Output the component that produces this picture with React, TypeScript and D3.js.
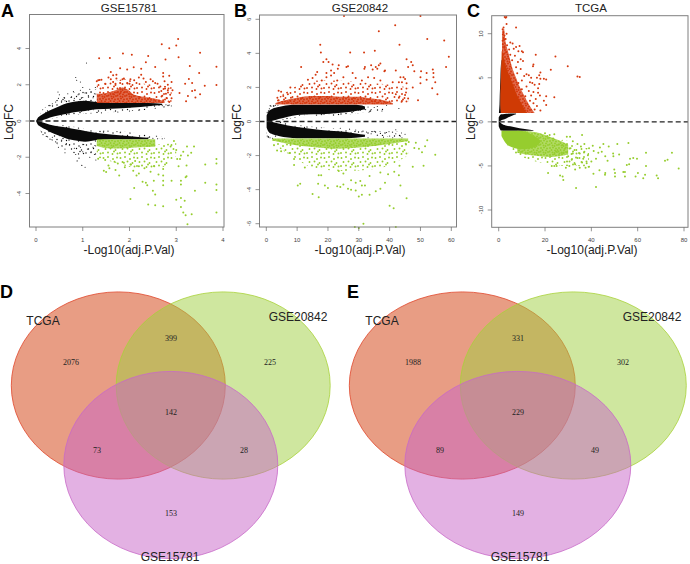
import React from "react";
import * as d3 from "d3";

type P = [number, number];
type B = [number, number, number];

// ---- Panel A: GSE15781 ----
const aTicksX = [0, 1, 2, 3, 4];
const aTicksY = [-4, -2, 0, 2, 4];
const aArmUp: B[] = [[0, 0, 0], [0.03, 0, 0.14], [0.1, 0.03, 0.3], [0.2, 0.1, 0.46], [0.3, 0.2, 0.6], [0.5, 0.32, 0.82], [0.66, 0.4, 0.98], [0.85, 0.5, 1.08], [1.05, 0.55, 1.12], [1.3, 0.65, 1.05], [1.6, 0.68, 1.0], [2.08, 0.75, 1.0], [2.4, 0.82, 1.0], [2.7, 0.88, 0.95]];
const aArmDn: B[] = [[0, 0, 0], [0.03, 0, -0.16], [0.1, -0.04, -0.32], [0.2, -0.12, -0.46], [0.3, -0.2, -0.6], [0.5, -0.3, -0.82], [0.66, -0.36, -0.98], [0.85, -0.46, -1.08], [1.05, -0.55, -1.14], [1.3, -0.66, -1.05], [1.6, -0.74, -1.0], [2.08, -0.85, -1.0], [2.4, -0.92, -1.0]];
const aBlackSparse: B[][] = [
  [[0.1, 0.3, 0.55], [0.3, 0.55, 0.95], [0.6, 0.85, 1.35], [1, 1.05, 1.7], [1.28, 1.0, 1.75]],
  [[0.1, -0.3, -0.6], [0.3, -0.55, -1.0], [0.6, -0.9, -1.5], [1, -1.05, -1.9], [1.28, -1.0, -1.9]],
  [[0.3, 0.12, 0.22], [0.6, 0.26, 0.4], [1, 0.38, 0.56], [1.6, 0.48, 0.7], [2.4, 0.62, 0.84], [2.9, 0.78, 1.0]],
  [[0.3, -0.12, -0.22], [0.6, -0.25, -0.38], [1, -0.38, -0.55], [1.6, -0.54, -0.76], [2.3, -0.7, -0.92], [2.75, -0.88, -1.0]],
];
const aBlack: P[] = [[0.85, 2.4], [0.87, 2.25], [0.95, 2.15], [1.08, 3.2], [0.47, 1.6], [0.5, 1.45], [0.6, 1.3], [0.48, 1.25], [0.55, 1.12], [0.68, 1.5], [0.75, 1.3], [0.8, 1.62], [0.9, 1.45], [0.95, 1.7], [1.0, 1.85], [1.05, 1.55], [1.12, 1.4], [1.15, 1.75], [1.18, 1.6], [1.22, 1.28], [1.25, 1.5], [1.27, 1.85], [1.0, 1.3], [0.82, 1.25], [0.3, 0.85], [0.35, 0.95], [0.42, 1.05], [0.62, 1.12], [1.4, 0.45], [1.75, 0.5], [2.0, 0.55], [2.2, 0.6], [2.55, 0.7], [2.7, 0.85], [2.78, 0.9], [2.85, 0.88], [0.12, -0.6], [0.15, -0.75], [0.22, -0.85], [0.3, -1.0], [0.35, -0.9], [0.45, -1.2], [0.48, -1.45], [0.42, -1.15], [0.55, -1.05], [0.62, -1.55], [0.62, -1.75], [0.65, -1.25], [0.72, -1.3], [0.82, -1.5], [0.85, -1.85], [0.88, -2.2], [0.92, -2.05], [0.95, -1.45], [0.98, -2.45], [1.0, -1.7], [1.02, -1.3], [1.05, -2.55], [1.1, -1.55], [1.15, -2.0], [1.18, -1.7], [1.22, -1.45], [1.25, -1.85], [1.28, -2.15], [1.26, -1.35], [1.45, -0.55], [1.8, -0.65], [2.4, -0.92], [2.5, -0.95], [2.6, -0.98], [2.7, -0.98]];
const aRedDense: B[] = [[1.3, 1.0, 1.5], [1.5, 1.0, 1.55], [1.7, 1.0, 1.7], [1.85, 1.0, 1.85], [1.95, 1.0, 1.75], [2.1, 1.0, 1.45], [2.4, 1.0, 1.3], [2.6, 1.0, 1.2], [2.75, 1.0, 1.08]];
const aRedSparse: B[][] = [[[1.3, 1.4, 2.05], [1.6, 1.4, 2.15], [1.9, 1.5, 2.3], [2.2, 1.2, 2.1], [2.5, 1.1, 2.0], [2.9, 1.05, 1.9]]];
const aRed: P[] = [[1.35, 3.46], [1.58, 3.48], [1.86, 3.72], [2.05, 3.65], [2.4, 3.59], [2.35, 3.24], [2.69, 4.24], [2.85, 4.01], [3.0, 4.16], [3.04, 4.53], [3.05, 3.52], [2.77, 3.39], [3.51, 3.76], [3.29, 3.04], [3.86, 3.0], [3.49, 2.65], [3.86, 1.99], [3.61, 1.95], [3.27, 2.32], [3.34, 2.1], [3.19, 2.06], [3.4, 1.69], [3.34, 1.66], [3.51, 1.47], [3.41, 1.29], [3.25, 1.38], [3.21, 1.09], [3.07, 1.55], [2.55, 2.98], [2.09, 2.96], [1.8, 2.91], [1.95, 2.84], [2.25, 2.88], [1.72, 2.55], [1.6, 2.7], [1.65, 2.52], [1.3, 2.2], [1.33, 2.25], [1.36, 2.26], [1.4, 2.27], [1.55, 2.4], [1.6, 2.3], [1.65, 2.15], [1.72, 2.35], [1.8, 2.1], [1.85, 2.3], [1.88, 2.35], [1.95, 2.1], [2.02, 2.3], [2.1, 2.25], [2.2, 2.4], [2.25, 2.55], [2.3, 2.35], [2.45, 2.3], [2.5, 2.2], [2.55, 2.1], [2.72, 2.65], [2.72, 2.45], [2.85, 2.5], [2.75, 2.2], [2.82, 2.0], [2.9, 2.15], [2.66, 1.9], [2.68, 1.65], [2.7, 1.4], [2.72, 1.15], [2.76, 1.8], [2.78, 1.5], [2.8, 1.25], [2.82, 1.7], [2.85, 1.05], [2.87, 1.45], [2.9, 1.25], [2.92, 1.7], [2.0, 2.05], [2.15, 2.1], [2.35, 2.15], [2.6, 2.05], [1.48, 2.05], [1.7, 2.05]];
const aGreenDense: B[] = [[1.3, -1.0, -1.38], [1.6, -1.0, -1.52], [1.9, -1.0, -1.5], [2.2, -1.0, -1.45], [2.55, -1.0, -1.42]];
const aGreenSparse: B[][] = [[[1.3, -1.3, -2.0], [1.7, -1.4, -2.3], [2.2, -1.35, -2.6], [2.6, -1.3, -2.6], [2.9, -1.2, -2.2], [3.0, -1.1, -1.9]]];
const aGreen: P[] = [[1.33, -2.08], [1.48, -2.15], [1.5, -2.82], [1.55, -2.45], [1.57, -2.6], [1.68, -2.25], [1.7, -2.7], [1.88, -2.3], [2.02, -2.4], [2.08, -2.75], [2.12, -2.2], [2.15, -3.0], [2.2, -2.5], [2.28, -3.35], [2.32, -2.6], [2.38, -3.55], [2.45, -2.8], [2.52, -3.3], [2.53, -2.5], [2.62, -2.95], [2.72, -2.65], [2.72, -3.0], [2.72, -3.3], [2.72, -3.55], [2.88, -1.4], [2.9, -3.3], [2.95, -1.1], [3.0, -1.6], [3.02, -2.1], [3.05, -2.5], [3.08, -2.1], [3.1, -1.9], [3.15, -1.7], [3.1, -3.3], [3.1, -3.5], [3.22, -3.05], [3.2, -3.1], [3.23, -1.4], [3.25, -1.9], [3.22, -2.45], [3.32, -1.75], [3.38, -1.4], [3.4, -3.85], [3.62, -2.4], [3.62, -3.4], [3.86, -2.1], [3.86, -2.35], [3.86, -3.5], [3.86, -3.8], [3.86, -5.05], [2.02, -4.3], [2.1, -3.7], [2.35, -3.4], [2.5, -3.85], [2.55, -4.05], [2.4, -4.6], [2.55, -4.65], [2.72, -4.7], [3.0, -4.35], [3.1, -4.25], [3.18, -4.4], [3.1, -4.75], [3.15, -5.05], [3.2, -5.2], [3.33, -5.15], [3.24, -5.7], [2.2, -2.9], [1.9, -2.55], [1.78, -3.0], [1.45, -2.75], [1.75, -2.35]];

// ---- Panel B: GSE20842 ----
const bTicksX = [0, 10, 20, 30, 40, 50, 60];
const bTicksY = [-6, -4, -2, 0, 2, 4, 6];
const bArmUp: B[] = [[0.1, 0, 0.35], [0.8, 0, 0.6], [2, 0.04, 0.75], [4, 0.14, 0.85], [7, 0.28, 0.96], [10, 0.38, 0.98], [15, 0.42, 0.98], [20.6, 0.46, 0.98], [26, 0.54, 0.98], [29, 0.62, 0.98], [32, 0.72, 0.88]];
const bArmDn: B[] = [[0.1, 0, -0.35], [0.8, 0, -0.62], [2, -0.03, -0.75], [4, -0.12, -0.85], [7, -0.24, -0.94], [10, -0.32, -0.98], [15, -0.44, -0.98], [20.6, -0.54, -0.98], [26, -0.62, -0.98], [29, -0.7, -0.96], [32, -0.78, -0.9]];
const bBlackSparse: B[][] = [
  [[4, 0.02, 0.14], [10, 0.22, 0.38], [20, 0.3, 0.46], [30, 0.48, 0.66], [38, 0.62, 0.9]],
  [[4, -0.02, -0.14], [10, -0.2, -0.32], [20, -0.38, -0.54], [30, -0.52, -0.72], [44, -0.6, -0.96]],
  [[0.1, -0.35, -0.95], [1.5, -0.7, -0.98], [4, -0.85, -0.98]],
  [[0.1, 0.35, 0.7], [1.5, 0.68, 0.98], [4, 0.85, 0.98]],
];
const bBlack: P[] = [[0.3, -0.85], [0.6, -0.9], [1.2, -0.95], [2, -0.98], [1, 0.75], [1.5, 0.9], [2.5, 0.92], [3, 0.95], [30, 0.65], [31, 0.9], [32, 0.72], [33, 0.85], [34, 0.7], [35, 0.82], [36, 0.88], [37.5, 0.62], [33.5, 0.6], [39, 0.95], [43, 0.76], [31, -0.6], [32.5, -0.62], [33, -0.95], [34, -0.72], [35, -0.58], [36, -0.8], [37, -0.7], [38, -0.92], [39, -0.65], [40, -0.85], [42, -0.48], [42, -0.72], [41, -0.95], [43.5, -0.85], [44, -0.95], [45, -0.75], [24, -0.4], [27, -0.45], [29, -0.5]];
const bRedDense: B[] = [[3, 1.0, 1.08], [5, 1.0, 1.2], [10, 1.0, 1.4], [15, 1.0, 1.5], [20, 1.0, 1.5], [25, 1.0, 1.45], [30, 1.0, 1.45], [34, 1.0, 1.35], [38, 1.0, 1.25], [41, 1.0, 1.08]];
const bRedSparse: B[][] = [[[3, 1, 1.3], [8, 1.2, 1.9], [15, 1.3, 2.4], [22, 1.3, 2.4], [30, 1.25, 2.3], [38, 1.1, 2.2], [46, 1.1, 2]]];
const bRed: P[] = [[25.2, 6.2], [50, 6.2], [41.8, 5.65], [36.5, 5.3], [43.2, 4.5], [52.2, 4.85], [57.7, 4.75], [59.2, 3.8], [17.5, 4.5], [17.7, 4.05], [27.2, 4.05], [31.7, 4.05], [35.2, 4.15], [19.5, 3.65], [18.5, 3.5], [20.2, 3.5], [21.5, 3.35], [45.5, 3.65], [47, 3.5], [47.5, 3.3], [58.3, 3.2], [11.3, 3.2], [21, 3.0], [23.5, 3.3], [23.2, 3.1], [26, 3.2], [26.5, 3.25], [32, 3.2], [31.8, 3.1], [34, 3.3], [35.5, 3.2], [36.5, 3.3], [37, 3.4], [34.5, 3.05], [36, 3.1], [38.5, 3.0], [38.3, 2.95], [42, 3.0], [46, 3.2], [48, 2.95], [50.2, 2.95], [52, 2.85], [54, 3.05], [54.2, 2.85], [16.5, 2.9], [19.5, 2.85], [22, 2.85], [28, 2.85], [50, 2.6], [54.2, 2.6], [52, 2.45], [54.8, 2.3], [53.8, 1.95], [55.5, 1.6], [50, 2.25], [49.2, 1.25], [47.5, 2.0], [45.5, 2.25], [44, 2.3], [43.5, 2.6], [43, 2.3], [44.5, 2.6], [45, 2.5], [42, 1.6], [41, 2.3], [13.5, 2.45], [15, 2.55], [16, 2.75], [18, 2.4], [19.5, 2.6], [21, 2.7], [23, 2.4], [25, 2.6], [29, 2.55], [31, 2.4], [33, 2.6], [35, 2.55], [37, 2.4], [7.8, 2.0], [4, 1.8], [4.8, 1.75], [3.6, 1.4], [4, 1.25], [5.5, 1.5], [7, 1.6], [8, 1.4], [43, 1.4], [45, 1.55], [46, 1.35], [44, 1.2]];
const bGreenDense: B[] = [[2, -1.0, -1.12], [8, -1.0, -1.35], [15, -1.0, -1.5], [22, -1.0, -1.6], [28, -1.0, -1.55], [34, -1.0, -1.45], [40, -1.0, -1.32], [46, -1.0, -1.15]];
const bGreenSparse: B[][] = [[[2, -1, -1.3], [8, -1.25, -2], [15, -1.4, -2.7], [25, -1.45, -2.9], [35, -1.35, -2.8], [42, -1.2, -2.4], [46, -1.1, -2]]];
const bGreen: P[] = [[2.5, -1.4], [4, -1.1], [3.5, -1.7], [4.8, -1.75], [7.5, -1.85], [9, -2.2], [9, -2.55], [12.5, -2.7], [17, -3.15], [17.8, -3.15], [23.5, -2.9], [25, -3.05], [27.5, -3.45], [29, -3.6], [30.5, -3.5], [32, -3.75], [33.5, -3.2], [37, -3.0], [39.5, -3.1], [41.5, -2.95], [43, -3.15], [43.2, -2.6], [45.2, -1.3], [46.2, -1.2], [47.5, -2.65], [48, -1.55], [48.5, -1.25], [49.5, -1.6], [50.5, -1.8], [51, -2.6], [51.5, -1.45], [52.2, -1.1], [54.8, -1.95], [10.2, -3.75], [11, -3.65], [16.8, -3.65], [19, -3.75], [20, -3.9], [15, -4.25], [17, -4.45], [23, -3.8], [24, -3.85], [25, -3.7], [26.5, -3.95], [27.5, -4.0], [29, -4.05], [31, -3.75], [30, -4.4], [31, -4.3], [33.5, -4.3], [35.5, -4.1], [37, -3.95], [38.5, -3.6], [43.5, -3.75], [45.5, -4.5], [40, -4.95], [41.3, -5.1], [28.7, -6.2], [30, -6.25], [31.5, -6.0], [42, -6.2]];

// ---- Panel C: TCGA ----
const cTicksX = [0, 20, 40, 60, 80];
const cTicksY = [-10, -5, 0, 5, 10];
const cArmUp: B[] = [[0, 0, 0.5], [0.4, 0.03, 0.7], [1, 0.15, 0.85], [2.5, 0.3, 0.9], [4, 0.5, 0.92], [6, 0.72, 0.95], [7.5, 0.85, 0.95]];
const cArmDn: B[] = [[0, 0, -0.5], [0.5, -0.02, -0.8], [1, -0.15, -0.98], [3, -0.4, -1.0], [6, -0.55, -1.0], [9, -0.72, -1.0], [12, -0.85, -1.0], [15, -0.95, -1.0]];
const cRedSolid: B[] = [[1, 0.9, 12], [2, 0.7, 10], [3, 0.7, 8], [4, 0.8, 6.5], [5, 0.9, 5], [6, 1, 3.5], [7, 1.2, 2.4], [8, 1.3, 1.6]];
const cRedDenseV: B[] = [[1, 10, 15.5], [2, 8, 13], [3, 6, 11], [4, 5, 9], [5, 4, 7.5], [6, 2.5, 6], [7, 1.5, 5], [8, 1.4, 4], [9, 1.5, 3], [10.5, 1.6, 2.4]];
const cLeftEdge: B[] = [[1, 0.1, 1.0], [2, 0.35, 0.9], [3, 0.45, 0.9], [4, 0.6, 1.0], [5, 0.75, 1.1], [6, 0.85, 1.2], [7, 1.1, 1.3]];
const cRed: P[] = [[2.6, 11.9], [3, 11.8], [3.3, 11.9], [3.4, 11.1], [2.1, 10.7], [1.7, 10.5], [7.5, 10.7], [2, 10.2], [1.8, 9.9], [2.5, 9.8], [3.4, 10], [2, 9.5], [1.7, 9.2], [3, 9.4], [5, 9], [6, 8.9], [1.8, 8.8], [3.6, 8.7], [7.5, 8.5], [9, 8.6], [2.5, 8.4], [4.5, 8.2], [6.5, 8.3], [10, 8], [10.5, 7.9], [8.5, 8], [3.2, 7.9], [2, 7.6], [5, 7.6], [7, 7.5], [16, 7.6], [24.5, 7.4], [4.2, 7.2], [9.5, 7.1], [5.8, 7], [8.3, 6.8], [10.5, 6.9], [7.5, 6.2], [15, 6.5], [14.8, 6.3], [29.8, 6.3], [22.5, 5.9], [9.5, 6], [18, 5.6], [12, 5.4], [13, 5.3], [8, 5.5], [17.5, 5.3], [34, 5.15], [35, 5.1], [11, 5.2], [14, 5], [16.5, 5], [18, 4.9], [19.5, 4.9], [20.5, 4.8], [10, 4.7], [13.5, 4.5], [14.5, 4.4], [8.5, 4.4], [15.5, 4.2], [17.5, 4.3], [17, 3.8], [12, 4], [10, 3.7], [13, 3.5], [15, 3.4], [17, 3.3], [17.8, 3], [14, 3], [11.5, 2.9], [20.5, 2.9], [24, 2.8], [16, 2.6], [13.5, 2.4], [19.5, 2.4], [15, 2.1], [20.5, 1.9], [16.5, 1.8], [15.5, 1.4], [18, 1.3]];
const cGreenSolid: B[] = [[1.2, -1, -1.6], [3, -1, -2.4], [6, -1, -2.9], [10, -1.05, -3.1], [14, -1.4, -3.0], [17, -1.9, -2.6], [18, -2.15, -2.3]];
const cGreenDense: B[] = [[8, -1, -3.5], [14, -1.1, -3.8], [18, -1.3, -3.9], [22, -1.7, -4], [26, -2.1, -3.9], [30, -2.6, -3.7]];
const cGreenSparse: B[][] = [[[3, -2.4, -2.8], [6, -2.9, -3.5], [10, -3.2, -4], [16, -3.6, -4.5], [22, -3.9, -4.8], [28, -2, -5], [34, -2.8, -5], [39, -3, -5.2]]];
const cGreen: P[] = [[77.7, -5.3], [74.8, -3.5], [72.9, -4.3], [71.8, -4.4], [68.8, -6.4], [68.2, -6.1], [63.6, -3.5], [63.6, -5], [63.2, -6], [62.4, -6.4], [60.1, -5.8], [59.7, -4.2], [58.1, -4.1], [56.7, -4.2], [56, -2.4], [55.3, -4.9], [56.3, -4.8], [51.2, -2.5], [52, -3.7], [54.5, -5.7], [53.8, -5.7], [54.5, -6.2], [59.1, -6.2], [50.2, -6.2], [50.2, -5.8], [49.9, -5.4], [49.4, -3.6], [49.5, -3.9], [33.4, -7.5], [42, -7.4], [27.9, -6.6], [26.5, -6.1], [27.6, -6.2], [22.9, -5], [21.3, -5.8], [40.9, -5.9], [43.5, -5.5], [45.9, -6], [46, -5.8], [45.2, -2.5], [43.7, -2.9], [40.6, -2.7], [36, -1.5], [29.4, -1.7], [30.8, -1.7], [47, -4.4], [46, -3.9], [44.5, -3.4], [43, -3.5], [42, -4.2], [41, -3.3], [40, -4.5], [39, -3], [38.5, -3.8], [38, -4.7], [37.5, -5.2], [37, -3.4], [36.5, -4.2], [36, -4.6], [35.5, -2.8], [35, -3.6], [35, -5.2], [34, -4.1], [34, -2.5], [33.5, -3.2], [33, -4.8], [33, -5.4], [32, -3.6], [32, -2.2], [31.5, -4.3], [31, -3], [30.5, -5], [30, -3.9], [29.5, -4.5], [29, -2.9], [29, -5.2], [28, -3.5], [25, -5], [24, -5], [23.5, -1.9], [22, -1.5], [21, -1.6], [20, -1.3], [24, -1.4], [47.5, -2.8], [39, -5.1], [37, -2.5]];

// ---- Venn diagrams ----
const vennSets = ["TCGA", "GSE20842", "GSE15781"];
const vennColors = ["#d23c0a", "#a0d040", "#c864c8"];
const vennStrokes = ["#e0452a", "#a8d238", "#c86ac8"];
const dCounts = ["2076", "399", "225", "142", "73", "28", "153"];
const eCounts = ["1988", "331", "302", "229", "89", "49", "149"];

// texture tiles for overplotted regions whose single points cannot be read
const denseTile: P[] = [[1, 1], [4, 0.5], [7, 1.5], [2.5, 3], [6, 3.5], [0.5, 4.5], [8, 5], [3.5, 5.5], [5.5, 6]];
const sparseTile: P[] = [[1.5, 2], [6, 1], [11, 3], [15, 1.5], [3.5, 6], [8.5, 5.5], [13.5, 7], [1, 10], [6, 9.5], [10.5, 11], [15.5, 10.5], [12, 8.5]];

const FONT = "'Liberation Sans', Arial, sans-serif";
const RED = "#d5380e";
const GREEN = "#96cd2e";
const BLACK = "#0a0a0a";

function Textures() {
  const mk = (id: string, col: string) => (
    <React.Fragment key={id}>
      <pattern id={`dense-${id}`} width={9} height={7} patternUnits="userSpaceOnUse">
        <rect width={9} height={7} fill={col} opacity={0.75} />
        {denseTile.map((d, i) => <circle key={i} cx={d[0]} cy={d[1]} r={1} fill={col} />)}
      </pattern>
      <pattern id={`sparse-${id}`} width={17} height={13} patternUnits="userSpaceOnUse">
        {sparseTile.map((d, i) => <circle key={i} cx={d[0]} cy={d[1]} r={id === "k" ? 0.7 : 0.95} fill={col} />)}
      </pattern>
    </React.Fragment>
  );
  return <defs>{mk("r", RED)}{mk("g", GREEN)}{mk("k", BLACK)}</defs>;
}

function Volcano(props: any) {
  const { title, letter, letterX, box, xr, yr, xd, yd, tx, ty, titleX, xLabelX, yLabelX } = props;
  const x = d3.scaleLinear().domain(xd).range(xr);
  const y = d3.scaleLinear().domain(yd).range(yr);
  const band = d3.area<B>().x((d) => x(d[0])).y0((d) => y(d[1])).y1((d) => y(d[2])).curve(d3.curveMonotoneX);
  const vband = d3.area<B>().y((d) => y(d[0])).x0((d) => x(d[1])).x1((d) => x(d[2])).curve(d3.curveMonotoneY);
  const bands = (list: B[][] | undefined, fill: string) => (list || []).map((b, i) => <path key={fill + i} d={band(b) || ""} fill={fill} />);
  const dots = (list: P[] | undefined, r: number, fill: string) => (list || []).map((d, i) => <circle key={fill + i} cx={x(d[0])} cy={y(d[1])} r={r} fill={fill} />);
  return (
    <g>
      <text x={letterX} y={16.5} fontFamily={FONT} fontWeight="bold" fontSize={18} fill="#000">{letter}</text>
      <text x={titleX} y={11.5} textAnchor="middle" fontFamily={FONT} fontSize={11.5} fill="#222">{title}</text>
      {bands(props.blackSparse, "url(#sparse-k)")}
      <path d={band(props.up) || ""} fill={BLACK} />
      <path d={band(props.dn) || ""} fill={BLACK} />
      {props.leftEdge && <path d={vband(props.leftEdge) || ""} fill={BLACK} />}
      {dots(props.black, 0.55, "#111")}
      {bands(props.redSparse, "url(#sparse-r)")}
      {bands(props.greenSparse, "url(#sparse-g)")}
      {props.redDense && <path d={band(props.redDense) || ""} fill="url(#dense-r)" />}
      {props.greenDense && <path d={band(props.greenDense) || ""} fill="url(#dense-g)" />}
      {props.redDenseV && <path d={vband(props.redDenseV) || ""} fill="url(#dense-r)" />}
      {props.redSolid && <path d={vband(props.redSolid) || ""} fill="#cf3a04" />}
      {props.greenSolid && <path d={band(props.greenSolid) || ""} fill={GREEN} />}
      {dots(props.red, 1, RED)}
      {dots(props.green, 1, GREEN)}
      <line x1={box[0]} x2={box[1]} y1={y(0)} y2={y(0)} stroke="#222" strokeWidth={1.4} strokeDasharray="5 3" />
      <rect x={box[0]} y={box[2]} width={box[1] - box[0]} height={box[3] - box[2]} fill="none" stroke="#7f7f7f" strokeWidth={1} />
      {tx.map((t: number) => (
        <g key={t}>
          <line x1={x(t)} x2={x(t)} y1={box[3]} y2={box[3] + 4} stroke="#666" strokeWidth={0.7} />
          <text x={x(t)} y={241.5} textAnchor="middle" fontFamily={FONT} fontSize={6} fill="#444">{t}</text>
        </g>
      ))}
      {ty.map((t: number) => (
        <g key={t}>
          <line x1={box[0] - 4} x2={box[0]} y1={y(t)} y2={y(t)} stroke="#666" strokeWidth={0.7} />
          <text transform={`translate(${box[0] - 9},${y(t)}) rotate(-90)`} textAnchor="middle" fontFamily={FONT} fontSize={6} fill="#444">{t}</text>
        </g>
      ))}
      <text x={xLabelX} y={254} textAnchor="middle" fontFamily={FONT} fontSize={12} fill="#222">-Log10(adj.P.Val)</text>
      <text transform={`translate(${yLabelX},122) rotate(-90)`} textAnchor="middle" fontFamily={FONT} fontSize={12} fill="#222">LogFC</text>
    </g>
  );
}

function Venn(props: any) {
  const { letter, letterX, cx, rx, counts, countX, labelX, labels } = props;
  const cy = [385.5, 385.5, 465];
  const countY = [362, 338, 362, 412, 450, 450, 513];
  return (
    <g>
      <text x={letterX} y={298} fontFamily={FONT} fontWeight="bold" fontSize={18} fill="#000">{letter}</text>
      {vennSets.map((s, i) => (
        <ellipse key={s} cx={cx[i]} cy={cy[i]} rx={rx} ry={93.6} fill={vennColors[i]} fillOpacity={0.5} stroke={vennStrokes[i]} strokeWidth={0.8} />
      ))}
      {counts.map((c: string, i: number) => (
        <text key={i} x={countX[i]} y={countY[i] + 2.5} textAnchor="middle" fontFamily="'Liberation Serif', serif" fontSize={8} fill="#222">{c}</text>
      ))}
      {vennSets.map((s, i) => (
        <text key={s} x={labelX[i]} y={labels[i]} textAnchor="middle" fontFamily={FONT} fontSize={12} fill="#222">{s}</text>
      ))}
    </g>
  );
}

export default function App() {
  return (
    <svg width={690} height={564} viewBox="0 0 690 564" style={{ position: "absolute", left: 0, top: 0, background: "#fff" }}>
      <Textures />
      <Volcano title="GSE15781" letter="A" letterX={1} titleX={129} xLabelX={129} yLabelX={13} box={[29.5, 224, 14.5, 227]} xd={[0, 4]} xr={[36, 223]} yd={[-4, 4]} yr={[193.5, 48.5]} tx={aTicksX} ty={aTicksY} up={aArmUp} dn={aArmDn} black={aBlack} blackSparse={aBlackSparse} red={aRed} green={aGreen} redDense={aRedDense} greenDense={aGreenDense} redSparse={aRedSparse} greenSparse={aGreenSparse} />
      <Volcano title="GSE20842" letter="B" letterX={234} titleX={360} xLabelX={360} yLabelX={241} box={[259.5, 456.5, 15, 227]} xd={[0, 60]} xr={[266.3, 451.3]} yd={[-6, 6]} yr={[223.7, 19.3]} tx={bTicksX} ty={bTicksY} up={bArmUp} dn={bArmDn} black={bBlack} blackSparse={bBlackSparse} red={bRed} green={bGreen} redDense={bRedDense} greenDense={bGreenDense} redSparse={bRedSparse} greenSparse={bGreenSparse} />
      <Volcano title="TCGA" letter="C" letterX={467} titleX={591} xLabelX={592} yLabelX={475} box={[491.7, 688, 15.7, 227.3]} xd={[0, 80]} xr={[498.7, 684]} yd={[-10, 10]} yr={[210, 33.7]} tx={cTicksX} ty={cTicksY} up={cArmUp} dn={cArmDn} red={cRed} green={cGreen} redSolid={cRedSolid} redDenseV={cRedDenseV} greenSolid={cGreenSolid} greenDense={cGreenDense} greenSparse={cGreenSparse} leftEdge={cLeftEdge} />
      <Venn letter="D" letterX={0} cx={[118.3, 223.2, 170.8]} rx={107} counts={dCounts} countX={[71, 171, 270, 171, 97, 244, 171]} labelX={[43, 298, 170]} labels={[325, 321, 561]} />
      <Venn letter="E" letterX={347} cx={[462.3, 573.3, 517.8]} rx={113} counts={eCounts} countX={[413, 518, 623, 518, 440, 595, 518]} labelX={[382, 652, 520]} labels={[325, 321, 561]} />
    </svg>
  );
}
